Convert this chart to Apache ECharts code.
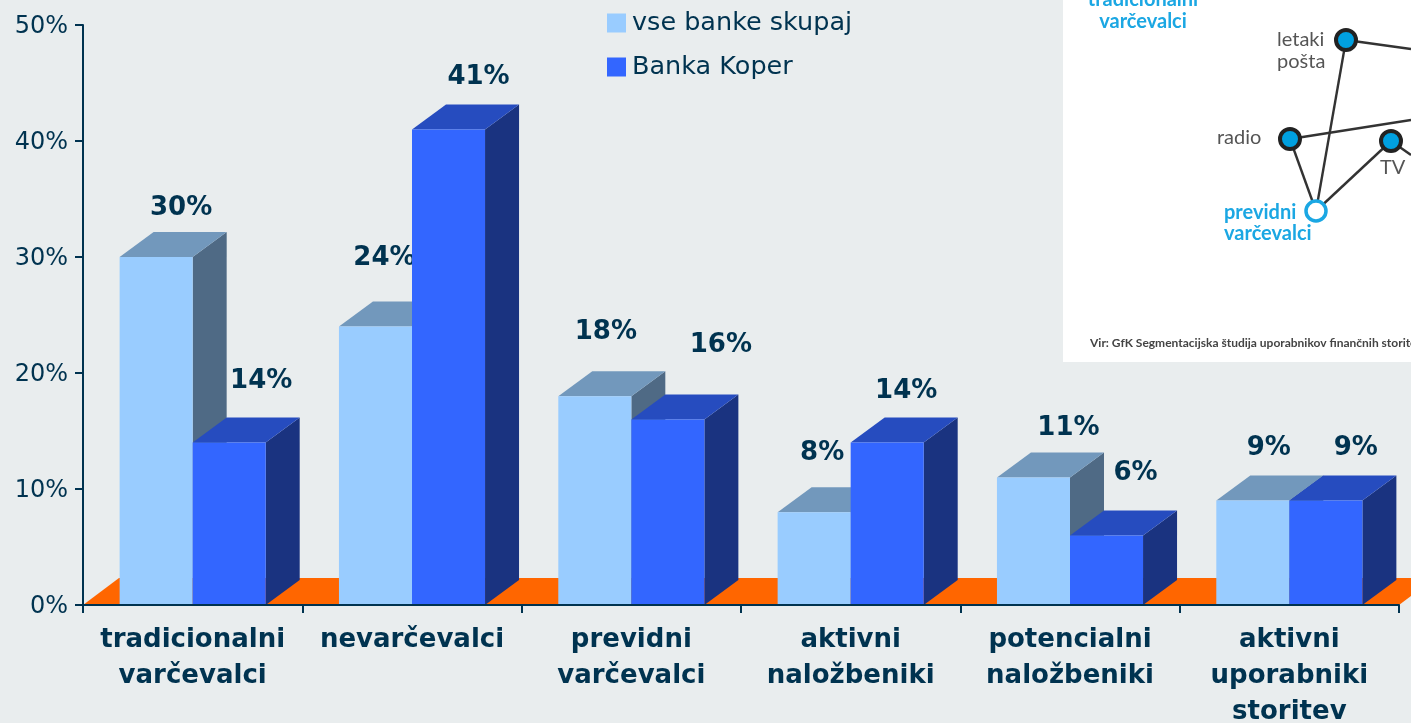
<!DOCTYPE html>
<html>
<head>
<meta charset="utf-8">
<title>Segmenti varčevalcev</title>
<style>
  html, body { margin: 0; padding: 0; background: #e9edee; }
  #chart { width: 1411px; height: 723px; }
</style>
<script src="https://cdn.jsdelivr.net/npm/echarts@6/dist/echarts.min.js"></script>
</head>
<body>
<div id="chart"></div>
<script>
// Values in percent, one entry per segment
const categories = [
  'tradicionalni\nvarčevalci',
  'nevarčevalci',
  'previdni\nvarčevalci',
  'aktivni\nnaložbeniki',
  'potencialni\nnaložbeniki',
  'aktivni\nuporabniki\nstoritev'
];
const vseBankeSkupaj = [30, 24, 18, 8, 11, 9];
const bankaKoper = [14, 41, 16, 14, 6, 9];
const yTicks = { min: 0, max: 50, interval: 10 };

// Hand placement of the value labels, relative to the top edge midpoint of each bar
const lightLabelOffsets = [[25, -49], [9, -68], [11, -64], [8, -59], [35, -49], [16, -52]];
const darkLabelOffsets = [[32, -61], [30, -52], [53, -74], [19, -51], [29, -62], [30, -52]];

const INK = '#003350';
const FONT = '"DejaVu Sans", sans-serif';
const DEPTH_X = 34;
const DEPTH_Y = 25;

const lightPalette = { front: '#99ccff', top: '#7298bc', side: '#4f6a85' };
const darkPalette = { front: '#3366ff', top: '#264cbf', side: '#1a3380' };

// Draws one 3D box: side and top faces behind the front face
function boxRenderer(palette, sideSign, labelOffsets) {
  return function (params, api) {
    const idx = params.dataIndex;
    const value = api.value(1);
    const base = api.coord([idx, 0]);
    const tip = api.coord([idx, value]);
    const barW = api.size([1, 0])[0] * 0.333;
    const x0 = sideSign < 0 ? base[0] - barW : base[0];
    const x1 = x0 + barW;
    const y0 = base[1];
    const y1 = tip[1];
    const off = labelOffsets[idx];
    return {
      type: 'group',
      children: [
        { type: 'polygon', shape: { points: [[x1, y0], [x1 + DEPTH_X, y0 - DEPTH_Y], [x1 + DEPTH_X, y1 - DEPTH_Y], [x1, y1]] }, style: { fill: palette.side } },
        { type: 'polygon', shape: { points: [[x0, y1], [x0 + DEPTH_X, y1 - DEPTH_Y], [x1 + DEPTH_X, y1 - DEPTH_Y], [x1, y1]] }, style: { fill: palette.top } },
        { type: 'rect', shape: { x: x0, y: y1, width: barW, height: y0 - y1 }, style: { fill: palette.front } },
        {
          type: 'text', z2: 20,
          style: {
            x: (x0 + x1) / 2 + off[0], y: y1 + off[1],
            text: value + '%', fill: INK, font: 'bold 26px ' + FONT,
            textAlign: 'center', textVerticalAlign: 'middle'
          }
        }
      ]
    };
  };
}

// The orange floor strip running under all bars
function floorRenderer(params, api) {
  const cs = params.coordSys;
  const y0 = cs.y + cs.height;
  const rise = DEPTH_Y + 2;
  const run = DEPTH_X + 2;
  return {
    type: 'polygon',
    shape: { points: [[cs.x, y0], [cs.x + run, y0 - rise], [cs.x + cs.width + run, y0 - rise], [cs.x + cs.width, y0]] },
    style: { fill: '#ff6600' }
  };
}

const catData = (values) => values.map((v, i) => [i, v]);

// Inset with the media network diagram
const NODE_FILL = '#00a0e0';
const NODE_LINE = '#222222';
const CYAN = '#1ba7e3';
const GREY = '#555555';
const link = (x1, y1, x2, y2) => ({
  type: 'line', shape: { x1, y1, x2, y2 }, style: { stroke: '#333333', lineWidth: 2.4 }
});
const node = (cx, cy) => ({
  type: 'circle', shape: { cx, cy, r: 10 }, style: { fill: NODE_FILL, stroke: NODE_LINE, lineWidth: 4 }
});
const caption = (x, y, text, fill, size, align, weight) => ({
  type: 'text', style: { x, y, text, fill, font: (weight || 'normal') + ' ' + size + 'px Lato, sans-serif', textAlign: align || 'left', textVerticalAlign: 'middle' }
});
const inset = [
  { type: 'rect', shape: { x: 1063, y: 0, width: 348, height: 362 }, style: { fill: '#ffffff' } },
  link(1346, 40, 1411, 49), link(1290, 139, 1411, 120), link(1391, 141, 1411, 155),
  link(1346, 40, 1316, 211), link(1290, 139, 1316, 211), link(1391, 141, 1316, 211),
  node(1346, 40), node(1290, 139), node(1391, 141),
  { type: 'circle', shape: { cx: 1316, cy: 211, r: 10 }, style: { fill: '#ffffff', stroke: CYAN, lineWidth: 3.5 } },
  caption(1143, 0, 'tradicionalni', CYAN, 20, 'center', 'bold'),
  caption(1143, 22, 'varčevalci', CYAN, 20, 'center', 'bold'),
  caption(1277, 40, 'letaki', GREY, 20),
  caption(1277, 62, 'pošta', GREY, 20),
  caption(1217, 138, 'radio', GREY, 20),
  caption(1380, 168, 'TV', GREY, 20),
  caption(1224, 213, 'previdni', CYAN, 20, 'left', 'bold'),
  caption(1224, 234, 'varčevalci', CYAN, 20, 'left', 'bold'),
  caption(1090, 343, 'Vir: GfK Segmentacijska študija uporabnikov finančnih storitev', '#444444', 12, 'left', 'bold')
].map((el) => Object.assign(el, { silent: true }));

const chart = echarts.init(document.getElementById('chart'), null, { renderer: 'canvas' });
chart.setOption({
  animation: false,
  backgroundColor: '#e9edee',
  textStyle: { fontFamily: FONT },
  grid: { left: 83, top: 25, width: 1316, height: 580, containLabel: false, outerBoundsMode: 'none' },
  legend: {
    left: 607, top: 10, padding: 0, orient: 'vertical', itemGap: 18,
    itemWidth: 19, itemHeight: 19, icon: 'rect',
    data: ['vse banke skupaj', 'Banka Koper'],
    textStyle: { color: INK, fontSize: 25.5, fontFamily: FONT, padding: [0, 0, 0, 1] },
    selectedMode: false
  },
  graphic: inset,
  xAxis: {
    type: 'category', data: categories, z: 5,
    axisLine: { lineStyle: { color: INK, width: 2 } },
    axisTick: { show: true, alignWithLabel: false, length: 8, lineStyle: { color: INK, width: 2 } },
    axisLabel: {
      color: INK, fontSize: 26, fontWeight: 'bold', fontFamily: FONT, lineHeight: 36,
      margin: 17, interval: 0
    }
  },
  yAxis: {
    type: 'value', min: yTicks.min, max: yTicks.max, interval: yTicks.interval, z: 5,
    splitLine: { show: false },
    axisLine: { show: true, lineStyle: { color: INK, width: 2 } },
    axisTick: { show: true, length: 8, lineStyle: { color: INK, width: 2 } },
    axisLabel: {
      margin: 15,
      formatter: '{tick|{value}%}',
      rich: { tick: { color: INK, fontSize: 24, fontFamily: FONT, lineHeight: 24, padding: [4, 0, 0, 0] } }
    }
  },
  series: [
    { type: 'custom', name: 'floor', silent: true, z: 1, data: [[0, 0]], renderItem: floorRenderer, encode: { x: 0, y: 1 } },
    { type: 'custom', name: 'vse banke skupaj', z: 2, itemStyle: { color: lightPalette.front }, data: catData(vseBankeSkupaj), encode: { x: 0, y: 1 }, renderItem: boxRenderer(lightPalette, -1, lightLabelOffsets) },
    { type: 'custom', name: 'Banka Koper', z: 3, itemStyle: { color: darkPalette.front }, data: catData(bankaKoper), encode: { x: 0, y: 1 }, renderItem: boxRenderer(darkPalette, 1, darkLabelOffsets) }
  ]
});
</script>
</body>
</html>
